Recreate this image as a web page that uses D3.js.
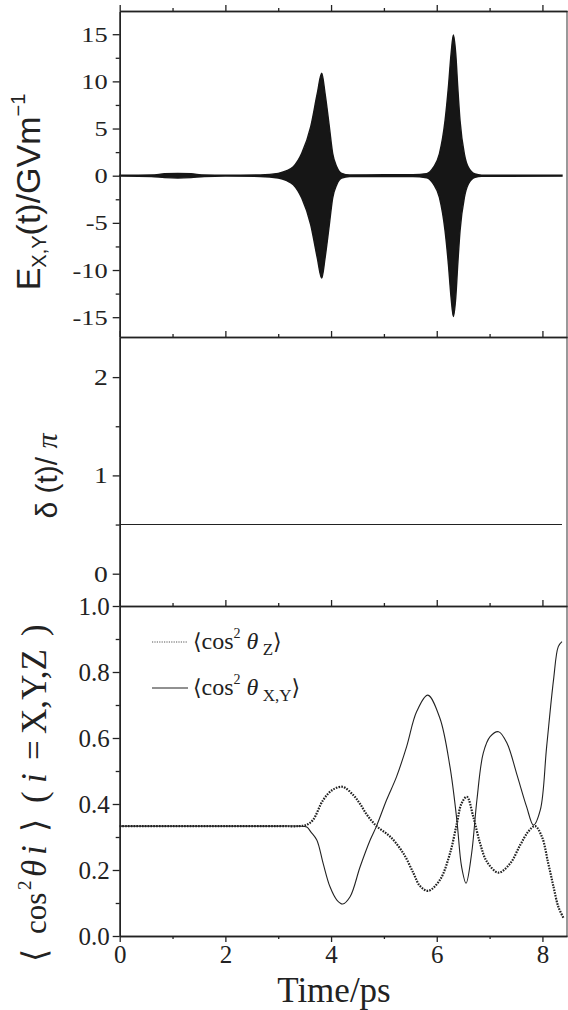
<!DOCTYPE html>
<html><head><meta charset="utf-8">
<script src="https://cdn.jsdelivr.net/npm/d3@7"></script>
<style>
body{margin:0;background:#fff}
svg{display:block}
text{fill:#222}
.serif{font-family:'Liberation Serif','Times New Roman',serif}
.sans{font-family:'Liberation Sans',Arial,sans-serif}
.brk{font-family:'DejaVu Sans',sans-serif}
</style></head><body>
<svg id="c" width="568" height="1010"></svg>
<script>
// ---- data ----
// Panel 1: envelope of the fast-oscillating field E_{X,Y}(t) (GV/m)
const timeE = [0, 0.6, 0.85, 1.1, 1.35, 1.6, 2.0, 2.66, 3.0, 3.15, 3.286, 3.445, 3.615, 3.74, 3.823, 3.886, 3.967, 4.03, 4.107, 4.2, 4.35, 5.0, 5.55, 5.81, 5.936, 6.05, 6.157, 6.22, 6.271, 6.315, 6.36, 6.398, 6.441, 6.523, 6.599, 6.725, 6.85, 8.37];
const envE  = [0.04, 0.08, 0.2, 0.25, 0.2, 0.08, 0.04, 0.08, 0.25, 0.5, 0.95, 2.37, 5.2, 8.74, 10.86, 8.74, 5.2, 2.37, 0.95, 0.25, 0.08, 0.1, 0.1, 0.22, 0.88, 2.3, 5.83, 9.36, 12.9, 14.92, 12.9, 9.36, 5.83, 2.3, 0.88, 0.18, 0.06, 0.05];
// Panel 2: relative phase delta(t)/pi
const timeD = [0, 8.37];
const phaseD = [0.5, 0.5];
// Panel 3: alignment <cos^2 theta_i>
const timeZ = [0, 1, 2, 3, 3.4, 3.54, 3.66, 3.85, 4.03, 4.22, 4.42, 4.55, 4.68, 4.86, 5.12, 5.37, 5.56, 5.68, 5.84, 6.06, 6.25, 6.38, 6.47, 6.57, 6.69, 6.82, 6.95, 7.17, 7.39, 7.58, 7.73, 7.86, 7.99, 8.11, 8.21, 8.3, 8.4];
const cosZ  = [0.333, 0.333, 0.333, 0.333, 0.333, 0.337, 0.352, 0.412, 0.443, 0.452, 0.427, 0.400, 0.367, 0.333, 0.301, 0.250, 0.190, 0.152, 0.137, 0.170, 0.250, 0.341, 0.402, 0.422, 0.362, 0.281, 0.225, 0.192, 0.220, 0.276, 0.316, 0.333, 0.301, 0.220, 0.149, 0.089, 0.054];
const timeXY = [0, 1, 2, 3, 3.4, 3.54, 3.62, 3.73, 3.85, 3.98, 4.11, 4.22, 4.36, 4.55, 4.74, 4.86, 5.05, 5.24, 5.43, 5.62, 5.83, 6.06, 6.25, 6.38, 6.47, 6.555, 6.66, 6.76, 6.88, 7.01, 7.17, 7.33, 7.51, 7.7, 7.83, 7.96, 8.08, 8.21, 8.3, 8.37];
const cosXY  = [0.333, 0.333, 0.333, 0.333, 0.333, 0.330, 0.315, 0.291, 0.220, 0.149, 0.109, 0.097, 0.119, 0.210, 0.291, 0.333, 0.412, 0.483, 0.574, 0.680, 0.730, 0.660, 0.513, 0.352, 0.210, 0.160, 0.250, 0.412, 0.554, 0.604, 0.619, 0.584, 0.493, 0.392, 0.336, 0.382, 0.574, 0.776, 0.877, 0.892];
// tick values
const xMajor = [0, 2, 4, 6, 8], xMinor = [1, 3, 5, 7];
const eMajor = [-15, -10, -5, 0, 5, 10, 15], eMinor = [-12.5, -7.5, -2.5, 2.5, 7.5, 12.5];
const dMajor = [0, 1, 2], dMinor = [0.5, 1.5];
const cMajor = [0, 0.2, 0.4, 0.6, 0.8, 1.0], cMinor = [0.1, 0.3, 0.5, 0.7, 0.9];

// ---- layout ----
const svg = d3.select("#c");
const L = 119.7, R = 567;
const x = d3.scaleLinear().domain([0, 8.465]).range([L, R]);
const yE = d3.scaleLinear().domain([-17.1, 17.46]).range([337, 11]);
const yD = d3.scaleLinear().domain([-0.3286, 2.408]).range([606, 337]);
const yC = d3.scaleLinear().domain([0, 1]).range([936, 606]);

const AX = "#222";
function styleAxis(g, fs, sx) {
  g.attr("font-family", null).attr("font-size", null);
  g.select(".domain").attr("stroke", AX).attr("stroke-width", 1.4);
  g.selectAll(".tick line").attr("stroke", AX).attr("stroke-width", 1.3);
  g.selectAll(".tick text").attr("class", "serif").style("font-size", fs + "px").attr("fill", "#222");
  if (sx) g.selectAll(".tick text").attr("transform", `scale(${sx},1)`);
}

function panel(y, major, minor, fmt, fs, sx) {
  const [b, t] = y.range();
  svg.append("line").attr("x1", R).attr("x2", R).attr("y1", t).attr("y2", b)
    .attr("stroke", "#555").attr("stroke-width", 1.2);
  const gt = svg.append("g").attr("transform", `translate(0,${t})`);
  gt.call(d3.axisTop(x).tickValues(xMajor).tickSize(6).tickSizeOuter(0).tickFormat(""));
  styleAxis(gt);
  const gt2 = svg.append("g").attr("transform", `translate(0,${t})`);
  gt2.call(d3.axisTop(x).tickValues(xMinor).tickSize(3).tickSizeOuter(0).tickFormat(""));
  styleAxis(gt2);
  gt.select(".domain").attr("stroke", "#444");
  const gl = svg.append("g").attr("transform", `translate(${L},0)`);
  gl.call(d3.axisLeft(y).tickValues(major).tickSize(7).tickPadding(3).tickSizeOuter(0).tickFormat(fmt));
  styleAxis(gl, fs, sx);
  const gl2 = svg.append("g").attr("transform", `translate(${L},0)`);
  gl2.call(d3.axisLeft(y).tickValues(minor).tickSize(4).tickSizeOuter(0).tickFormat(""));
  styleAxis(gl2);
}

// Panel 1
const envData = timeE.map((t, i) => ({t, e: envE[i]}));
svg.append("path").datum(envData)
  .attr("d", d3.area().x(d => x(d.t)).y0(d => yE(-d.e)).y1(d => yE(d.e)).curve(d3.curveMonotoneX))
  .attr("fill", "#161616").attr("stroke", "#161616").attr("stroke-width", 1.4);
panel(yE, eMajor, eMinor, d => d, 22, 1.2);

// Panel 2
const dData = timeD.map((t, i) => ({t, v: phaseD[i]}));
svg.append("path").datum(dData)
  .attr("d", d3.line().x(d => x(d.t)).y(d => yD(d.v)))
  .attr("fill", "none").attr("stroke", "#222").attr("stroke-width", 1.1);
panel(yD, dMajor, dMinor, d => d, 23, 1.2);

// Panel 3
const zData = timeZ.map((t, i) => ({t, v: cosZ[i]}));
const xyData = timeXY.map((t, i) => ({t, v: cosXY[i]}));
const lineC = d3.line().x(d => x(d.t)).y(d => yC(d.v)).curve(d3.curveCatmullRom.alpha(0.5));
svg.append("path").datum(xyData).attr("d", lineC)
  .attr("fill", "none").attr("stroke", "#222").attr("stroke-width", 1.1);
svg.append("path").datum(zData).attr("d", lineC)
  .attr("fill", "none").attr("stroke", "#222").attr("stroke-width", 2.2).attr("stroke-dasharray", "1.6,1.2");
panel(yC, cMajor, cMinor, d3.format(".1f"), 25);

// bottom x axis
const gb = svg.append("g").attr("transform", `translate(0,${yC.range()[0]})`);
gb.call(d3.axisBottom(x).tickValues(xMajor).tickSize(6).tickPadding(3).tickSizeOuter(0).tickFormat(d => d));
styleAxis(gb, 25);
const gb2 = svg.append("g").attr("transform", `translate(0,${yC.range()[0]})`);
gb2.call(d3.axisBottom(x).tickValues(xMinor).tickSize(3).tickSizeOuter(0).tickFormat(""));
styleAxis(gb2);

// x title
svg.append("text").attr("class", "serif").attr("x", 334).attr("y", 1002).attr("text-anchor", "middle")
  .style("font-size", "35px").text("Time/ps");

// y title 1
const t1 = svg.append("text").attr("class", "sans").attr("transform", "translate(40,192) rotate(-90)")
  .attr("text-anchor", "middle").style("font-size", "34px");
t1.append("tspan").text("E");
t1.append("tspan").style("font-size", "20px").attr("dy", 6).text("X,Y");
t1.append("tspan").attr("dy", -6).text("(t)/GVm");
t1.append("tspan").style("font-size", "20px").attr("dy", -15).text("−1");

// y title 2
const t2 = svg.append("text").attr("class", "sans").attr("transform", "translate(57,476) rotate(-90)")
  .attr("text-anchor", "middle").style("font-size", "30px");
t2.append("tspan").text("δ (t)/ ");
t2.append("tspan").attr("class", "serif").style("font-style", "italic").text("π");

// y title 3 (pieces along rotated baseline)
const g3 = svg.append("g").attr("transform", "translate(46,0) rotate(-90)");
const pieces = [
  {p: 962, s: "⟨", b: true}, {p: 934, s: "cos", fs: 31}, {p: 890, s: "2", fs: 19, dy: -15},
  {p: 877, s: "θ", it: true}, {p: 855, s: "i", it: true}, {p: 832, s: "⟩", b: true},
  {p: 803, s: "("}, {p: 783, s: "i", it: true}, {p: 760, s: "="},
  {p: 734, s: "X,Y,Z"}, {p: 636, s: ")"}
];
pieces.forEach(d => {
  g3.append("text").attr("class", d.b ? "brk" : "serif").attr("x", -d.p).attr("y", d.dy || 0)
    .style("font-size", (d.fs || (d.b ? 34 : 35)) + "px").style("font-style", d.it ? "italic" : "normal")
    .style("font-weight", d.b ? "200" : "normal").text(d.s);
});

// legend
const lg = svg.append("g");
lg.append("line").attr("x1", 152).attr("x2", 188).attr("y1", 642).attr("y2", 642)
  .attr("stroke", "#555").attr("stroke-width", 1).attr("stroke-dasharray", "1.2,1.2");
lg.append("line").attr("x1", 152).attr("x2", 188).attr("y1", 688).attr("y2", 688)
  .attr("stroke", "#222").attr("stroke-width", 1);
function legText(y, sub) {
  const t = lg.append("text").attr("class", "serif").attr("x", 193).attr("y", y).style("font-size", "24px");
  t.append("tspan").attr("class", "brk").style("font-size", "22px").text("⟨");
  t.append("tspan").text("cos");
  t.append("tspan").style("font-size", "14px").attr("dy", -11).text("2");
  t.append("tspan").attr("dy", 11).style("font-style", "italic").text(" θ");
  t.append("tspan").style("font-size", "17px").attr("dy", 6).text(" " + sub);
  t.append("tspan").attr("class", "brk").style("font-size", "22px").attr("dy", -6).text("⟩");
}
legText(649, "Z");
legText(695, "X,Y");
</script>
</body></html>
